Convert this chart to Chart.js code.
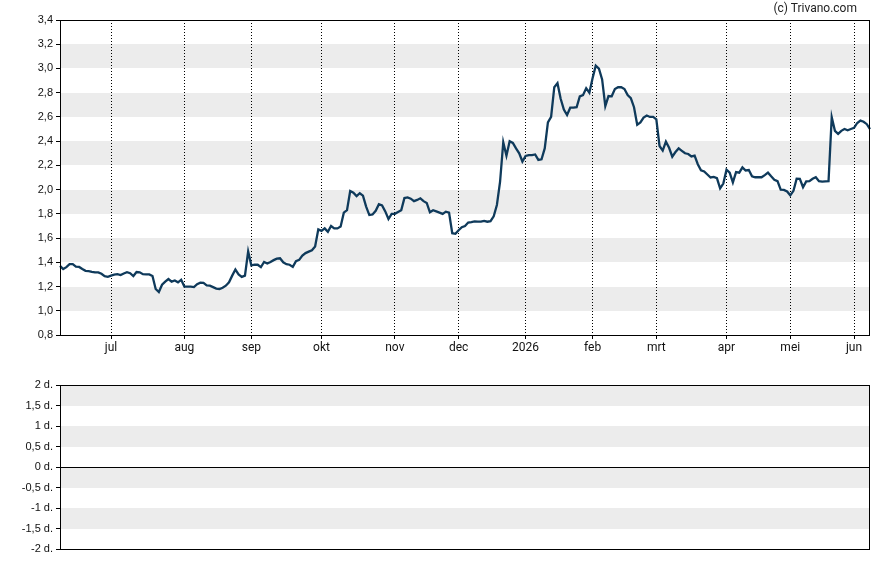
<!DOCTYPE html>
<html>
<head>
<meta charset="utf-8">
<script src="https://cdn.jsdelivr.net/npm/chart.js@4.4.1/dist/chart.umd.min.js"></script>
<style>
  body { margin: 0; background: #fff; }
  #wrap { position: relative; width: 888px; height: 565px; }
  #topBox { position: absolute; left: 0; top: 0; width: 888px; height: 362px; }
  #botBox { position: absolute; left: 0; top: 372px; width: 888px; height: 193px; }
  #copy { position: absolute; right: 31px; top: 1px; font: 12px Roboto, sans-serif; color: #222; }
</style>
</head>
<body>
<div id="wrap">
  <div id="topBox"><canvas id="koersChart"></canvas></div>
  <div id="botBox"><canvas id="dividendChart"></canvas></div>
  <div id="copy">(c) Trivano.com</div>
</div>
<script>
// trading days from 9 jun 2025 to 8 jun 2026 (Euronext holidays skipped)
var startDate = '2025-06-09';
var endDate = '2026-06-08';
var holidays = ['2025-12-25', '2025-12-26', '2026-01-01', '2026-04-03', '2026-04-06', '2026-05-01'];

var monthLabels = ['jul', 'aug', 'sep', 'okt', 'nov', 'dec', '2026', 'feb', 'mrt', 'apr', 'mei', 'jun'];
var monthKeys = ['2025-07', '2025-08', '2025-09', '2025-10', '2025-11', '2025-12', '2026-01', '2026-02', '2026-03', '2026-04', '2026-05', '2026-06'];

// closing prices, one per trading day
var koers = [
  1.37, 1.345, 1.36, 1.385, 1.385, 1.365, 1.362, 1.345, 1.33, 1.328,
  1.322, 1.317, 1.317, 1.305, 1.285, 1.28, 1.29, 1.298, 1.302, 1.295,
  1.308, 1.318, 1.31, 1.287, 1.32, 1.317, 1.302, 1.30, 1.30, 1.287,
  1.18, 1.155, 1.215, 1.24, 1.262, 1.24, 1.25, 1.235, 1.255, 1.20,
  1.199, 1.199, 1.196, 1.22, 1.232, 1.23, 1.21, 1.207, 1.195, 1.183,
  1.18, 1.19, 1.207, 1.235, 1.29, 1.34, 1.30, 1.28, 1.29, 1.49,
  1.375, 1.38, 1.38, 1.36, 1.403, 1.39, 1.403, 1.418, 1.43, 1.433,
  1.40, 1.385, 1.38, 1.362, 1.41, 1.42, 1.455, 1.476, 1.488, 1.50,
  1.53, 1.672, 1.66, 1.68, 1.652, 1.70, 1.68, 1.68, 1.695, 1.81,
  1.83, 1.989, 1.975, 1.947, 1.97, 1.95, 1.86, 1.79, 1.795, 1.825,
  1.88, 1.87, 1.82, 1.757, 1.80, 1.80, 1.815, 1.83, 1.93, 1.935,
  1.925, 1.905, 1.915, 1.928, 1.905, 1.89, 1.813, 1.83, 1.82, 1.81,
  1.80, 1.818, 1.81, 1.64, 1.635, 1.665, 1.69, 1.70, 1.728, 1.732,
  1.738, 1.735, 1.735, 1.742, 1.735, 1.74, 1.78, 1.873, 2.065, 2.39,
  2.28, 2.40, 2.385, 2.34, 2.30, 2.232, 2.278, 2.285, 2.285, 2.29,
  2.245, 2.25, 2.34, 2.555, 2.60, 2.845, 2.878, 2.75, 2.66, 2.616,
  2.676, 2.676, 2.68, 2.77, 2.78, 2.836, 2.80, 2.919, 3.023, 2.998,
  2.91, 2.69, 2.772, 2.77, 2.83, 2.845, 2.845, 2.83, 2.78, 2.755,
  2.68, 2.535, 2.555, 2.595, 2.612, 2.60, 2.60, 2.58, 2.36, 2.322,
  2.396, 2.345, 2.272, 2.31, 2.34, 2.32, 2.30, 2.294, 2.274, 2.28,
  2.21, 2.16, 2.15, 2.125, 2.10, 2.105, 2.095, 2.011, 2.05, 2.165,
  2.14, 2.06, 2.145, 2.14, 2.184, 2.158, 2.162, 2.11, 2.102, 2.102,
  2.102, 2.12, 2.14, 2.11, 2.082, 2.07, 2.00, 1.998, 1.985, 1.953,
  1.99, 2.09, 2.088, 2.02, 2.068, 2.07, 2.09, 2.102, 2.07, 2.066,
  2.068, 2.07, 2.597, 2.485, 2.46, 2.485, 2.50, 2.49, 2.50, 2.51,
  2.55, 2.57, 2.56, 2.54, 2.50
];

var koersTicks = { min: 0.8, max: 3.4, step: 0.2 };
var dagTicks = { min: -2, max: 2, step: 0.5 };

function isoDate(d) {
  return d.toISOString().slice(0, 10);
}

var dagen = [];
var d = new Date(startDate + 'T12:00:00Z');
var eind = new Date(endDate + 'T12:00:00Z');
while (d <= eind) {
  var wd = d.getUTCDay();
  var s = isoDate(d);
  if (wd != 0 && wd != 6 && holidays.indexOf(s) < 0) dagen.push(s);
  d.setUTCDate(d.getUTCDate() + 1);
}

// index of first trading day of each month
var monthStarts = monthKeys.map(function (m) {
  for (var i = 0; i < dagen.length; i++) {
    if (dagen[i].slice(0, 7) == m) return i;
  }
  return -1;
});

function komma(v) {
  return String(v).replace('.', ',');
}

// grey bands between every other y tick, plus a frame round the plot
var bandsPlugin = {
  id: 'bands',
  beforeDraw: function (chart) {
    var ctx = chart.ctx, a = chart.chartArea, y = chart.scales.y;
    var t = y.ticks;
    ctx.save();
    ctx.fillStyle = '#ececec';
    for (var k = 1; k < t.length - 1; k += 2) {
      var y1 = Math.round(y.getPixelForValue(t[k + 1].value));
      var y2 = Math.round(y.getPixelForValue(t[k].value));
      ctx.fillRect(a.left, y1, a.right - a.left, y2 - y1);
    }
    ctx.restore();
  },
  afterDraw: function (chart) {
    var ctx = chart.ctx, a = chart.chartArea;
    ctx.save();
    ctx.strokeStyle = '#000';
    ctx.lineWidth = 1;
    ctx.strokeRect(Math.round(a.left) + 0.5, Math.round(a.top) + 0.5,
      Math.round(a.right - a.left) - 1, Math.round(a.bottom - a.top));
    ctx.restore();
  }
};

function fixWidth(w) {
  return function (scale) { scale.width = w; };
}

var yFont = { family: "'Liberation Sans', Arial, sans-serif", size: 11 };

new Chart(document.getElementById('koersChart'), {
  type: 'line',
  data: {
    labels: dagen,
    datasets: [{
      data: koers,
      borderColor: '#0f3a5b',
      borderWidth: 2.3,
      pointRadius: 0,
      tension: 0,
      fill: false
    }]
  },
  options: {
    responsive: true,
    maintainAspectRatio: false,
    animation: false,
    layout: { padding: { left: 0, right: 18, top: 20, bottom: 0 } },
    plugins: { legend: { display: false }, tooltip: { enabled: false } },
    scales: {
      x: {
        type: 'category',
        offset: false,
        afterBuildTicks: function (scale) {
          scale.ticks = monthStarts.map(function (i) { return { value: i }; });
        },
        afterFit: function (scale) { scale.height = 27; },
        ticks: {
          autoSkip: false,
          maxRotation: 0,
          padding: 2,
          color: '#111',
          font: { family: 'Roboto, sans-serif', size: 12 },
          callback: function (val, idx) { return monthLabels[idx]; }
        },
        grid: {
          color: '#000',
          lineWidth: 1,
          tickBorderDash: [],
          tickColor: '#000',
          tickLength: 4
        },
        border: { display: false, dash: [1, 2] }
      },
      y: {
        min: koersTicks.min,
        max: koersTicks.max,
        afterFit: fixWidth(60),
        ticks: {
          stepSize: koersTicks.step,
          padding: 3,
          color: '#111',
          font: yFont,
          callback: function (v) { return v.toFixed(1).replace('.', ','); }
        },
        grid: { drawOnChartArea: false, tickColor: '#000', tickLength: 4 },
        border: { display: false }
      }
    }
  },
  plugins: [bandsPlugin]
});

new Chart(document.getElementById('dividendChart'), {
  type: 'line',
  data: { labels: dagen, datasets: [] },
  options: {
    responsive: true,
    maintainAspectRatio: false,
    animation: false,
    layout: { padding: { left: 0, right: 18, top: 13, bottom: 16 } },
    plugins: { legend: { display: false }, tooltip: { enabled: false } },
    scales: {
      x: { type: 'category', display: false },
      y: {
        min: dagTicks.min,
        max: dagTicks.max,
        afterFit: fixWidth(60),
        ticks: {
          stepSize: dagTicks.step,
          padding: 3,
          color: '#111',
          font: yFont,
          callback: function (v) { return komma(v) + ' d.'; }
        },
        grid: {
          color: function (c) { return c.tick && c.tick.value === 0 ? '#000' : 'rgba(0,0,0,0)'; },
          tickColor: '#000',
          tickLength: 4
        },
        border: { display: false }
      }
    }
  },
  plugins: [bandsPlugin]
});
</script>
</body>
</html>
